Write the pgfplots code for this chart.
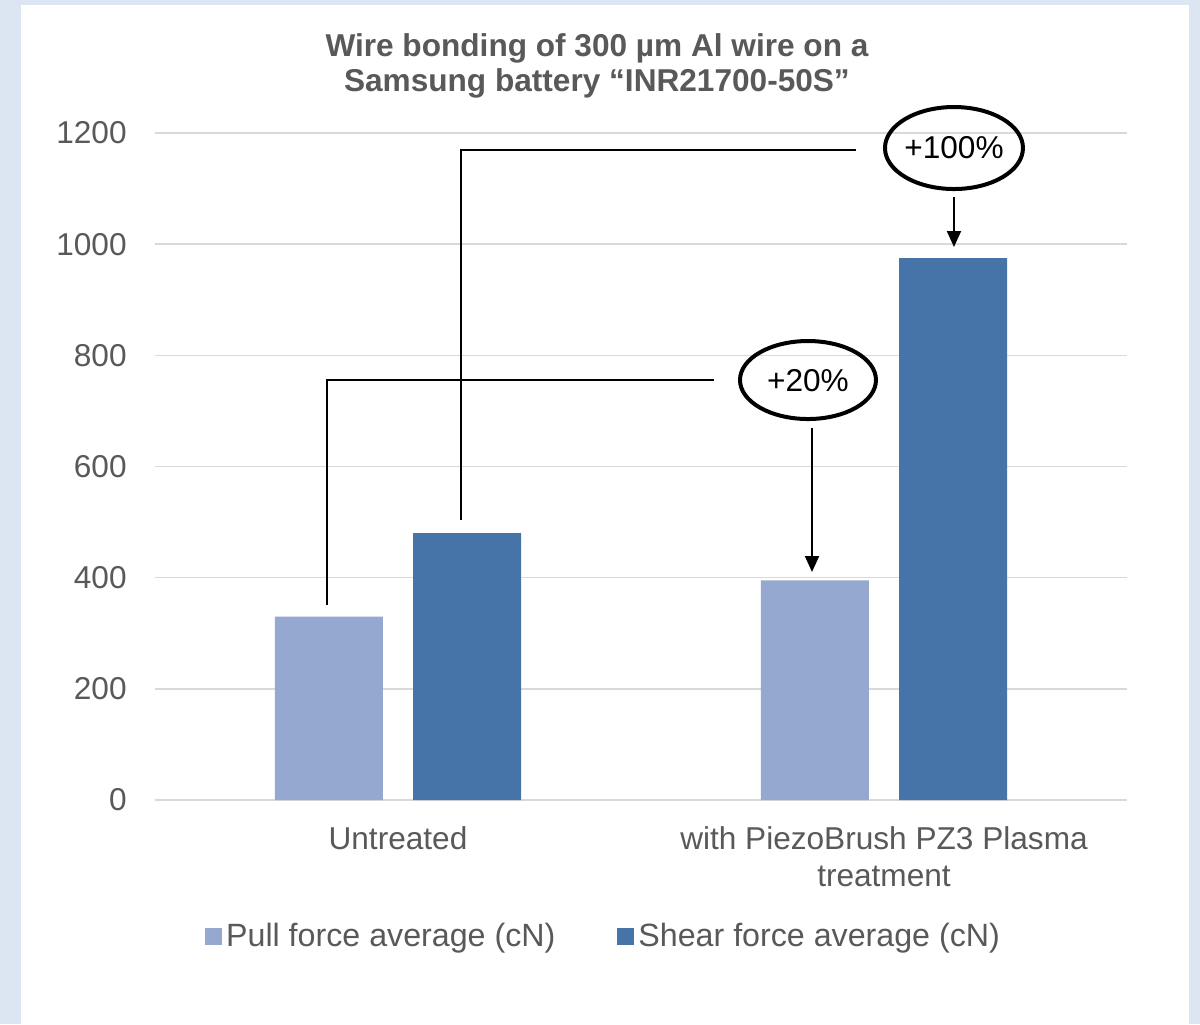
\documentclass[border=0pt]{standalone}
\usepackage{pgfplots}
\pgfplotsset{compat=1.18}
\usepackage{fontspec}
\setmainfont{Liberation Sans}
\usetikzlibrary{arrows.meta}
\definecolor{bgblue}{HTML}{DCE6F2}
\definecolor{pullc}{HTML}{95A9D0}
\definecolor{shearc}{HTML}{4674A8}
\definecolor{txtgray}{HTML}{595959}
\definecolor{gridc}{HTML}{D9D9D9}
\newcommand{\fs}{\fontsize{15.8}{18.5}\selectfont}
\newcommand{\fsl}{\fontsize{16.1}{18.5}\selectfont}
\newcommand{\fst}{\fontsize{15.8}{17.5}\selectfont}
\begin{document}
\begin{tikzpicture}
\fill[bgblue] (0pt,0pt) rectangle (600pt,-512pt);
\fill[white] (10.5pt,-2.5pt) rectangle (594.5pt,-512pt);
\begin{axis}[
 at={(77.5pt,-400pt)}, anchor=south west,
 scale only axis, width=486pt, height=333.5pt,
 xmin=-0.5, xmax=1.5, ymin=0, ymax=1200,
 enlargelimits=false, clip=false,
 ybar, bar width=0.2222,
 axis x line=bottom, axis y line=left, axis line style={draw=none},
 major tick length=0pt, tick style={draw=none},
 xtick={0,1}, xticklabels={Untreated, {with PiezoBrush PZ3 Plasma\\treatment}},
 xticklabel style={align=center, font=\fs, text=txtgray, inner sep=0pt, yshift=-13pt},
 ytick={0,200,...,1200},
 yticklabel style={font=\fs, text=txtgray, inner sep=0pt, xshift=-14pt},
 /pgf/number format/1000 sep={}, /pgf/number format/assume math mode=true,
 ymajorgrids, grid style={line width=0.75pt, draw=gridc},
 legend style={at={(0.4625,-0.204)}, anchor=center, draw=none, fill=none,
   legend columns=2, font=\fsl, text=txtgray,
   /tikz/every even column/.append style={column sep=29pt}},
]
\addplot[fill=pullc, draw=none, bar shift=0pt,
  legend image code/.code={\fill[pullc] (0pt,-4.25pt) rectangle (8.5pt,4.25pt);}]
  coordinates {(-0.142,330) (0.858,395)};
\addlegendentry{Pull force average (cN)}
\addplot[fill=shearc, draw=none, bar shift=0pt,
  legend image code/.code={\fill[shearc] (0pt,-4.25pt) rectangle (8.5pt,4.25pt);}]
  coordinates {(0.142,480) (1.142,975)};
\addlegendentry{Shear force average (cN)}
% annotations
\draw[line width=1pt] (axis cs:-0.1461,350.8) -- (axis cs:-0.1461,755.6) -- (axis cs:0.6502,755.6);
\draw[line width=2pt] (axis cs:0.8436,755.6) ellipse [x radius=34pt, y radius=19.5pt];
\node[font=\fs] at (axis cs:0.8436,754.0) {+20\%};
\draw[line width=1pt, -{Triangle[length=8pt,width=7pt]}] (axis cs:0.8519,669.3) -- (axis cs:0.8519,410.2);
\draw[line width=1pt] (axis cs:0.1296,503.7) -- (axis cs:0.1296,1169.4) -- (axis cs:0.9424,1169.4);
\draw[line width=2pt] (axis cs:1.1440,1173.0) ellipse [x radius=34.5pt, y radius=20.5pt];
\node[font=\fs] at (axis cs:1.1440,1173.0) {+100\%};
\draw[line width=1pt, -{Triangle[length=8pt,width=7pt]}] (axis cs:1.1440,1084.9) -- (axis cs:1.1440,994.9);
\node[align=center, font=\bfseries\fst, text=txtgray] at (rel axis cs:0.4547,1.1012)
  {Wire bonding of 300 µm Al wire on a\\Samsung battery “INR21700-50S”};
\end{axis}
\end{tikzpicture}
\end{document}
